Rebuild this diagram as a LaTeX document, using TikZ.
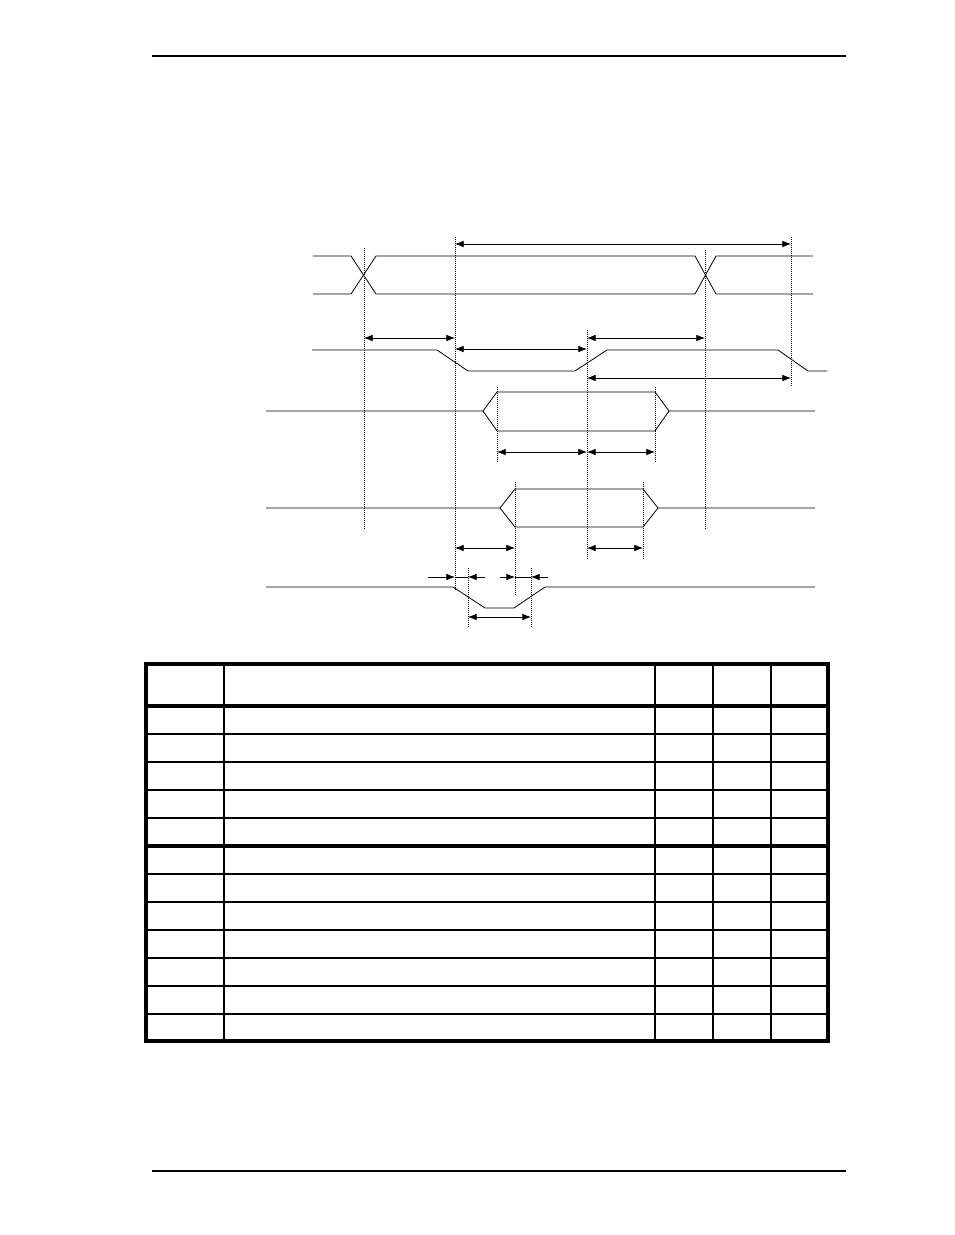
\documentclass[tikz,border=0pt]{standalone}
\usetikzlibrary{arrows.meta}

\begin{document}
\begin{tikzpicture}[x=0.75pt,y=-0.75pt,
  wave/.style={line width=0.6pt},
  guide/.style={densely dotted, line width=0.5pt},
  dim/.style={{Latex[length=6.5pt,width=5pt]}-{Latex[length=6.5pt,width=5pt]}, line width=0.6pt},
  tip/.style={-{Latex[length=6.5pt,width=5pt]}, line width=0.6pt},
  rule/.style={line width=1.1pt},
  frame/.style={line width=2.3pt},
  cell/.style={line width=0.8pt}]
  \useasboundingbox (0,0) rectangle (954,1235);
  % page rules
  \draw[rule] (152,56) -- (846,56);
  \draw[rule] (152,1171) -- (846,1171);
  % timing marks
  \draw[guide] (364,248) -- (364,530);
  \draw[guide] (455,237) -- (455,590);
  \draw[guide] (587,330) -- (587,560);
  \draw[guide] (705,250) -- (705,530);
  \draw[guide] (791,237) -- (791,386);
  \draw[guide] (497,387) -- (497,462);
  \draw[guide] (655,387) -- (655,462);
  \draw[guide] (515,482) -- (515,595);
  \draw[guide] (643,482) -- (643,560);
  \draw[guide] (468,568) -- (468,627);
  \draw[guide] (531,568) -- (531,627);
  % signal 1 (bus)
  \draw[wave] (313,256) -- (351,256) -- (376,294) -- (695,294) -- (716,256) -- (813,256);
  \draw[wave] (313,294) -- (351,294) -- (376,256) -- (695,256) -- (716,294) -- (813,294);
  % signal 2
  \draw[wave] (312,350) -- (437,350) -- (468,371) -- (575,371) -- (607,350)
    -- (778,350) -- (808,371) -- (827,371);
  % signal 3
  \draw[wave] (266,411) -- (483,411) -- (497,392) -- (655,392) -- (669,411) -- (815,411);
  \draw[wave] (483,411) -- (497,431) -- (655,431) -- (669,411);
  % signal 4
  \draw[wave] (266,508) -- (500,508) -- (515,489) -- (643,489) -- (658,508) -- (815,508);
  \draw[wave] (500,508) -- (515,527) -- (643,527) -- (658,508);
  % signal 5
  \draw[wave] (266,587) -- (453,587) -- (485,608) -- (514,608) -- (545,587) -- (815,587);
  % dimension arrows
  \draw[dim] (455,244) -- (791,244);
  \draw[dim] (364,338) -- (455,338);
  \draw[dim] (587,338) -- (705,338);
  \draw[dim] (455,349) -- (587,349);
  \draw[dim] (587,378) -- (791,378);
  \draw[dim] (497,452) -- (587,452);
  \draw[dim] (587,452) -- (655,452);
  \draw[dim] (455,548) -- (515,548);
  \draw[dim] (587,548) -- (643,548);
  \draw[tip] (428,577) -- (455,577);
  \draw[wave] (455,577) -- (468,577);
  \draw[tip] (485,577) -- (468,577);
  \draw[tip] (500,577) -- (515,577);
  \draw[wave] (515,577) -- (531,577);
  \draw[tip] (548,577) -- (531,577);
  \draw[dim] (468,617) -- (531,617);
  % table
  \foreach \y in {734,762,790,818,874,902,930,958,986,1014}
    \draw[cell] (146,\y) -- (828,\y);
  \foreach \x in {224,655,713,771}
    \draw[cell] (\x,664) -- (\x,1041);
  \foreach \y in {706,846}
    \draw[frame] (146,\y) -- (828,\y);
  \draw[frame] (146,664) rectangle (828,1041);
\end{tikzpicture}
\end{document}
